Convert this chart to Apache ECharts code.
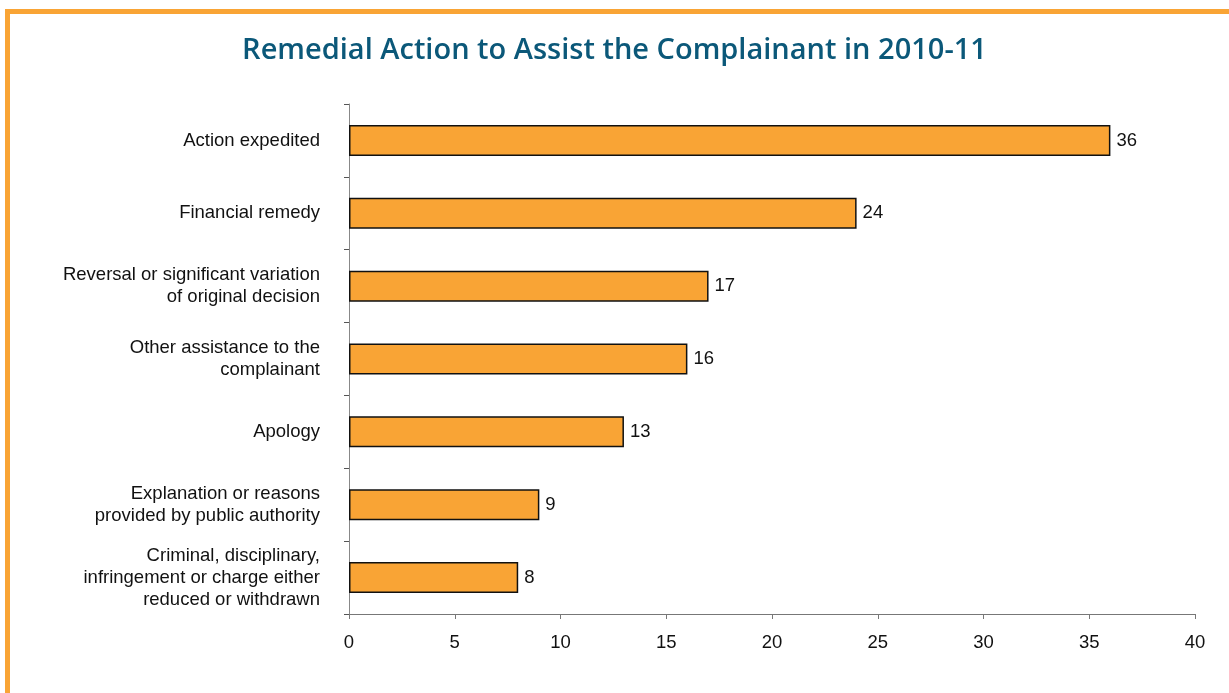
<!DOCTYPE html>
<html>
<head>
<meta charset="utf-8">
<script src="https://cdn.jsdelivr.net/npm/echarts@6/dist/echarts.min.js"></script>
<style>
  html, body { margin: 0; padding: 0; background: #fff; }
  #chart { width: 1229px; height: 693px; }
</style>
</head>
<body>
<div id="chart"></div>
<script>
// Remedial actions, listed top to bottom
const categories = [
  'Action expedited',
  'Financial remedy',
  'Reversal or significant variation\nof original decision',
  'Other assistance to the\ncomplainant',
  'Apology',
  'Explanation or reasons\nprovided by public authority',
  'Criminal, disciplinary,\ninfringement or charge either\nreduced or withdrawn'
];
const counts = [36, 24, 17, 16, 13, 9, 8];
const xTicks = [0, 5, 10, 15, 20, 25, 30, 35, 40];

const chart = echarts.init(document.getElementById('chart'), null, { renderer: 'canvas' });

chart.setOption({
  animation: false,
  backgroundColor: '#ffffff',
  title: {
    text: 'Remedial Action to Assist the Complainant in 2010-11',
    left: 'center',
    top: 31,
    textStyle: {
      fontFamily: 'Open Sans',
      fontWeight: 600,
      fontSize: 29,
      color: '#0b5879'
    }
  },
  graphic: [{
    type: 'rect',
    shape: { x: 7.5, y: 11.5, width: 1400, height: 900 },
    style: { fill: 'none', stroke: '#f9a435', lineWidth: 5 },
    silent: true
  }],
  grid: { left: 349, right: 34, top: 104, bottom: 79, containLabel: false },
  xAxis: {
    type: 'value',
    min: xTicks[0],
    max: xTicks[xTicks.length - 1],
    interval: 5,
    axisLine: { show: true, lineStyle: { color: '#777', width: 1 } },
    axisTick: { show: true, length: 5, lineStyle: { color: '#777' } },
    axisLabel: { margin: 19, fontFamily: 'Liberation Sans', fontSize: 18.5, color: '#111' },
    splitLine: { show: false }
  },
  yAxis: {
    type: 'category',
    data: categories,
    inverse: true,
    axisLine: { show: true, lineStyle: { color: '#888', width: 1 } },
    axisTick: { show: true, length: 5, alignWithLabel: false, lineStyle: { color: '#555' } },
    axisLabel: {
      margin: 29,
      fontFamily: 'Liberation Sans',
      fontSize: 18.5,
      lineHeight: 22,
      color: '#111',
      align: 'right'
    }
  },
  series: [{
    type: 'bar',
    data: counts,
    barWidth: 31,
    itemStyle: { color: '#f9a435', borderColor: '#111', borderWidth: 1.5 },
    label: {
      show: true,
      position: 'right',
      distance: 6,
      fontFamily: 'Liberation Sans',
      fontSize: 18.5,
      color: '#111'
    }
  }]
});
</script>
</body>
</html>
